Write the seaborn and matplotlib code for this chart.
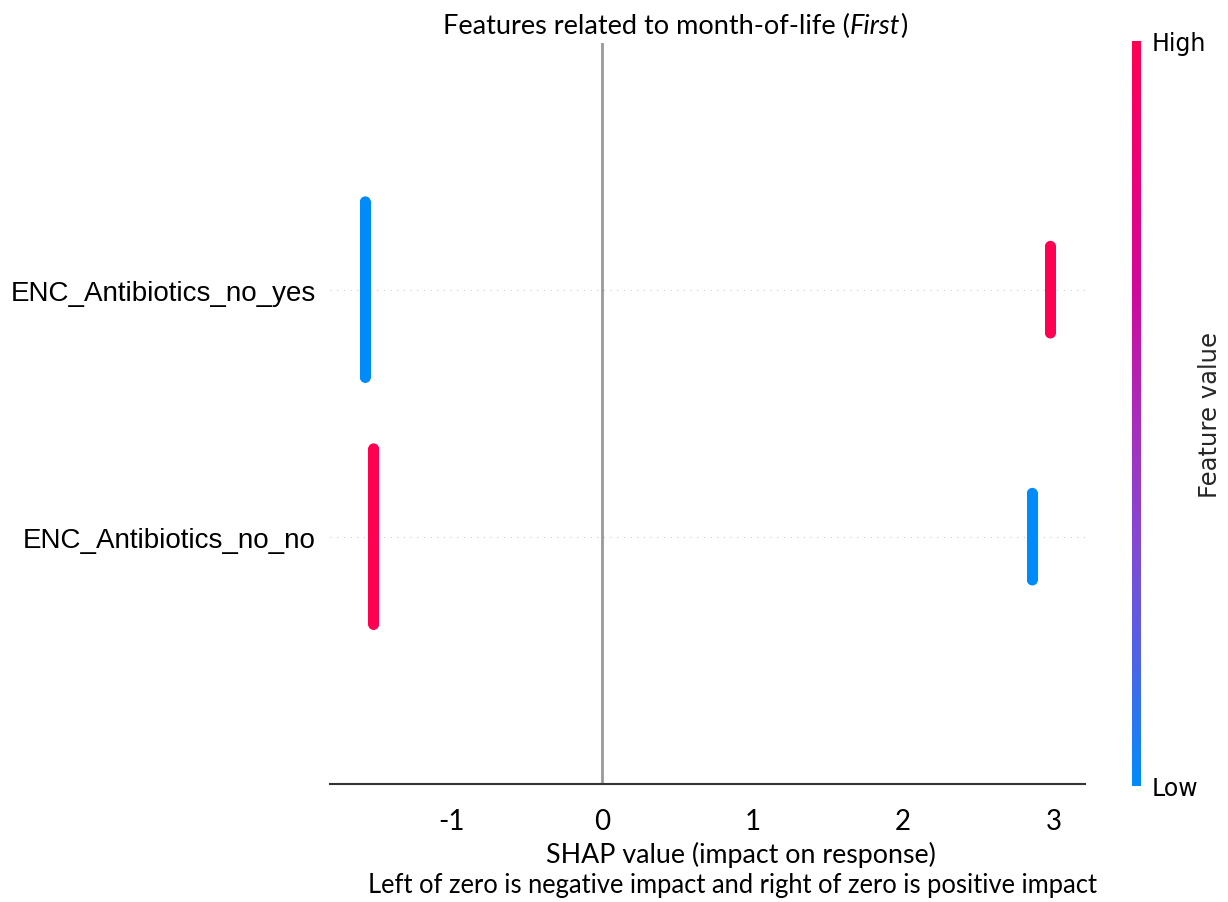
import numpy as np
import pandas as pd
import matplotlib
matplotlib.use("Agg")
import matplotlib.pyplot as plt
import seaborn as sns
from matplotlib.colors import LinearSegmentedColormap, Normalize
from matplotlib.cm import ScalarMappable

# ---- data ----
features = ["ENC_Antibiotics_no_yes", "ENC_Antibiotics_no_no"]   # top to bottom
# per feature: SHAP value for low (0) and high (1) feature value, and counts
shap_low = [-1.575, 2.86]
shap_high = [2.98, -1.52]
count_low = [262, 130]
count_high = [130, 262]
xticks = [-1, 0, 1, 2, 3]
title_main = "Features related to month-of-life ("
title_it = "First"
xlabel1 = "SHAP value (impact on response)"
xlabel2 = "Left of zero is negative impact and right of zero is positive impact"

# shap-like red_blue colormap
cmap = LinearSegmentedColormap.from_list(
    "red_blue",
    ["#008bfb", "#4d63e8", "#8547d3", "#aa2bbb", "#d0089a", "#ee0076", "#ff0052"])

# ---- beeswarm layout (shap style) ----
rows = []
n_feat = len(features)
row_height = 0.4
for i, f in enumerate(features):
    pos = n_feat - 1 - i
    groups = [(shap_low[i], count_low[i], 0.0), (shap_high[i], count_high[i], 1.0)]
    offs_all = []
    for val, n, fv in groups:
        k = np.arange(n)
        offs = np.ceil(k / 2) * ((k % 2) * 2 - 1)
        offs_all.append((val, fv, offs))
    mx = max(np.max(o + 1) for _, _, o in offs_all)
    for val, fv, offs in offs_all:
        ys = offs * 0.9 * (row_height / mx)
        for y in ys:
            rows.append({"shap": val, "y": pos + y, "fv": fv})
df = pd.DataFrame(rows)

# ---- figure ----
sns.set_style("white")
plt.rcParams["text.color"] = "black"
plt.rcParams["xtick.color"] = "black"
plt.rcParams["ytick.color"] = "black"
fig = plt.figure(figsize=(12.28, 9.03), dpi=100)
W, H = 1228, 903
ax = fig.add_axes([330 / W, (H - 785) / H, 755 / W, (785 - 44) / H])

for i in range(n_feat):
    ax.axhline(y=i, color="#cccccc", lw=0.8, dashes=(1, 5), zorder=-1)
ax.axvline(x=0, color="#999999", lw=2, zorder=-1)

sns.scatterplot(data=df, x="shap", y="y", hue="fv", palette=cmap, hue_norm=(0, 1),
                s=60, linewidth=0, legend=False, ax=ax, zorder=3, alpha=1)

ax.set_xlim(-1.81, 3.21)
ax.set_ylim(-1, n_feat)
ax.set_yticks(range(n_feat))
ax.set_yticklabels(features[::-1], fontsize=20, family="Liberation Sans", color="black")
ax.tick_params(axis="y", length=0, pad=10)
ax.set_xticks(xticks)
ax.set_xticklabels([str(t) for t in xticks], fontsize=20, family="Lato", color="black")
ax.tick_params(axis="x", length=5, width=1.2, color="#333333", pad=12)
ax.set_xlabel("")
ax.set_ylabel("")
for s in ["top", "left", "right"]:
    ax.spines[s].set_visible(False)
ax.spines["bottom"].set_color("#333333")
ax.spines["bottom"].set_linewidth(1.5)
ax.grid(False)

# title (with italic part)
tfs = 19.5
t1 = fig.text(0, 0, title_main, fontsize=tfs, family="Lato")
fig.canvas.draw()
r = fig.canvas.get_renderer()
t2 = fig.text(0, 0, title_it, fontsize=tfs, family="Lato", style="italic")
t3 = fig.text(0, 0, ")", fontsize=tfs, family="Lato")
w1 = t1.get_window_extent(r).width
w2 = t2.get_window_extent(r).width
w3 = t3.get_window_extent(r).width
total = w1 + w2 + w3
x0 = 675 - total / 2
yt = (H - 34) / H
t1.set_position((x0 / W, yt))
t2.set_position(((x0 + w1) / W, yt))
t3.set_position(((x0 + w1 + w2) / W, yt))

fig.text(741 / W, (H - 855) / H, xlabel1, fontsize=19.3, family="Lato", ha="center", va="center")
fig.text(733 / W, (H - 886) / H, xlabel2, fontsize=18.4, family="Lato", ha="center", va="center")

# colorbar
cax = fig.add_axes([1132 / W, (H - 787) / H, 9 / W, 745 / H])
sm = ScalarMappable(norm=Normalize(0, 1), cmap=cmap)
cb = fig.colorbar(sm, cax=cax, ticks=[0, 1])
cb.set_ticklabels(["Low", "High"])
cb.ax.tick_params(labelsize=17, length=0, pad=8)
for lab in cb.ax.get_yticklabels():
    lab.set_family("DejaVu Sans")
cb.outline.set_visible(False)
cb.set_label("Feature value", size=17.5, labelpad=-6, family="DejaVu Sans")

fig.savefig("out.png", dpi=100)
